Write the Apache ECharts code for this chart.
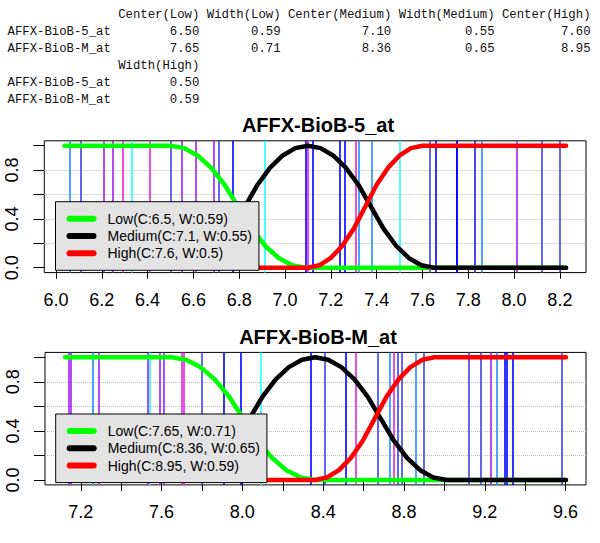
<!DOCTYPE html>
<html>
<head>
<meta charset="utf-8">
<script src="https://cdn.jsdelivr.net/npm/echarts@6/dist/echarts.min.js"></script>
<style>html,body{margin:0;padding:0;background:#fff}#c{width:600px;height:543px}</style>
</head>
<body>
<div id="c"></div>
<script>
// ---- table data ----
const probeNames = ['AFFX-BioB-5_at', 'AFFX-BioB-M_at'];
const headers1 = ['Center(Low)', 'Width(Low)', 'Center(Medium)', 'Width(Medium)', 'Center(High)'];
const headers2 = ['Width(High)'];
const centerLow = [6.50, 7.65];
const widthLow = [0.59, 0.71];
const centerMed = [7.10, 8.36];
const widthMed = [0.55, 0.65];
const centerHigh = [7.60, 8.95];
const widthHigh = [0.50, 0.59];

// ---- membership curves ----
const p1Low = [[6.037,1],[6.50,1],[6.559,0.98],[6.618,0.92],[6.677,0.82],[6.736,0.68],[6.795,0.50],[6.854,0.32],[6.913,0.18],[6.972,0.08],[7.031,0.02],[7.09,0],[8.227,0]];
const p1Med = [[6.037,0],[6.55,0],[6.605,0.02],[6.66,0.08],[6.715,0.18],[6.77,0.32],[6.825,0.5],[6.88,0.68],[6.935,0.82],[6.99,0.92],[7.045,0.98],[7.10,1],[7.155,0.98],[7.21,0.92],[7.265,0.82],[7.32,0.68],[7.375,0.5],[7.43,0.32],[7.485,0.18],[7.54,0.08],[7.595,0.02],[7.65,0],[8.227,0]];
const p1High = [[6.037,0],[7.10,0],[7.15,0.02],[7.20,0.08],[7.25,0.18],[7.30,0.32],[7.35,0.5],[7.40,0.68],[7.45,0.82],[7.50,0.92],[7.55,0.98],[7.60,1],[8.227,1]];
const p2Low = [[7.122,1],[7.65,1],[7.721,0.98],[7.792,0.92],[7.863,0.82],[7.934,0.68],[8.005,0.5],[8.076,0.32],[8.147,0.18],[8.218,0.08],[8.289,0.02],[8.36,0],[9.602,0]];
const p2Med = [[7.122,0],[7.71,0],[7.775,0.02],[7.84,0.08],[7.905,0.18],[7.97,0.32],[8.035,0.5],[8.10,0.68],[8.165,0.82],[8.23,0.92],[8.295,0.98],[8.36,1],[8.425,0.98],[8.49,0.92],[8.555,0.82],[8.62,0.68],[8.685,0.5],[8.75,0.32],[8.815,0.18],[8.88,0.08],[8.945,0.02],[9.01,0],[9.602,0]];
const p2High = [[7.122,0],[8.36,0],[8.419,0.02],[8.478,0.08],[8.537,0.18],[8.596,0.32],[8.655,0.5],[8.714,0.68],[8.773,0.82],[8.832,0.92],[8.891,0.98],[8.95,1],[9.602,1]];

// ---- sample values (vertical lines) ----
const p1Samples = [6.058,6.112,6.207,6.250,6.294,6.335,6.407,6.502,6.547,6.611,6.690,6.707,6.767,6.911,7.087,7.102,7.117,7.239,7.261,7.309,7.322,7.380,7.505,7.629,7.656,7.745,7.750,7.826,7.833,7.855,8.010,8.122,8.202];
const p1SampleCols = ['db','sb','p','p','m','c','m','sb','p','p','p','sb','b','c','b','m','b','b','b','m','db','db','c','sb','b','b','b','sb','sb','db','p','sb','sb'];
const p2Samples = [7.143,7.150,7.262,7.291,7.528,7.542,7.591,7.611,7.704,7.711,7.805,7.908,7.990,8.087,8.339,8.408,8.512,8.557,8.669,8.735,8.751,8.773,8.785,8.861,8.900,9.116,9.183,9.227,9.262,9.299,9.308,9.335,9.576];
const p2SampleCols = ['p','p','db','p','p','c','p','p','m','m','sb','b','b','c','b','sb','b','m','sb','db','m','sb','sb','db','sb','sb','sb','p','db','b','b','b','sb'];

// ---- axis ticks ----
const p1XTicks = [6.0,6.2,6.4,6.6,6.8,7.0,7.2,7.4,7.6,7.8,8.0,8.2];
const p1XLabels = [6.0,6.2,6.4,6.6,6.8,7.0,7.2,7.4,7.6,7.8,8.0,8.2];
const p2XTicks = [7.2,7.4,7.6,7.8,8.0,8.2,8.4,8.6,8.8,9.0,9.2,9.4,9.6];
const p2XLabels = [7.2,7.6,8.0,8.4,8.8,9.2,9.6];
const yTicks = [0,0.2,0.4,0.6,0.8,1.0];
const yLabels = [0,0.4,0.8];
const gridYs = [0.2,0.4,0.6,0.8];

const palette = {db:'#1E90FF', sb:'#4040E6', b:'#0000FF', p:'#A020F0', m:'#E822D8', c:'#22FFFF'};
const SANS = '"Liberation Sans", Arial, sans-serif';
const MONO = '"Liberation Mono", "DejaVu Sans Mono", monospace';

const chart = echarts.init(document.getElementById('c'), null, {renderer:'svg'});

// table graphics
const cw = 7.38, x0 = 7.5, fs = 12.3;
const rowY = [15, 32, 49, 66, 83, 100];
const g = [];
function txt(s, x, y, align){
  g.push({type:'text', x:x, y:y, silent:true, style:{text:s, fill:'#111', font: fs+'px '+MONO, align:align, verticalAlign:'middle', textAlign:align, textVerticalAlign:'middle'}});
}
const block1 = [centerLow, widthLow, centerMed, widthMed, centerHigh];
let end = 14; const ends1 = [];
headers1.forEach(h => { end += 1 + h.length; ends1.push(end); });
headers1.forEach((h,i) => txt(h, x0 + ends1[i]*cw, rowY[0], 'right'));
probeNames.forEach((n,r) => {
  txt(n, x0, rowY[1+r], 'left');
  block1.forEach((col,i) => txt(col[r].toFixed(2), x0 + ends1[i]*cw, rowY[1+r], 'right'));
});
const ends2 = [14 + 1 + headers2[0].length];
txt(headers2[0], x0 + ends2[0]*cw, rowY[3], 'right');
probeNames.forEach((n,r) => {
  txt(n, x0, rowY[4+r], 'left');
  txt(widthHigh[r].toFixed(2), x0 + ends2[0]*cw, rowY[4+r], 'right');
});

function legName(k, p){
  const cs = [centerLow, centerMed, centerHigh][k], ws = [widthLow, widthMed, widthHigh][k];
  return ['Low','Medium','High'][k] + '(C:' + String(cs[p]) + ', W:' + String(ws[p]) + ')';
}
const curveColors = ['#00FF00', '#000000', '#FF0000'];
const curves = [[p1Low, p1Med, p1High], [p2Low, p2Med, p2High]];
const samples = [p1Samples, p2Samples], sampleCols = [p1SampleCols, p2SampleCols];

const series = [];
[0,1].forEach(p => {
  series.push({type:'line', xAxisIndex:p, yAxisIndex:p, data:[], silent:true, z:1,
    markLine:{silent:true, z:1, symbol:['none','none'], label:{show:false}, animation:false,
      lineStyle:{type:'dotted', color:'#BDBDBD', width:1},
      data: gridYs.map(v => ({yAxis:v}))}});
  series.push({type:'line', xAxisIndex:p, yAxisIndex:p, data:[], silent:true, z:1,
    markLine:{silent:true, z:2, symbol:['none','none'], label:{show:false}, animation:false,
      data: samples[p].map((v,i) => ({xAxis:v, lineStyle:{color:palette[sampleCols[p][i]], width:1.6, type:'solid'}}))}});
  curves[p].forEach((d,k) => {
    series.push({type:'line', name:legName(k,p), xAxisIndex:p, yAxisIndex:p, data:d, showSymbol:false, symbol:'none', z:3,
      color: curveColors[k],
      lineStyle:{color:curveColors[k], width:4.5, cap:'round', join:'round'}});
  });
});

const capsule = 'path://M3,0 L27,0 A3,3 0 0 1 27,6 L3,6 A3,3 0 0 1 3,0 Z';
function legend(p, left, top){
  return {orient:'vertical', left:left, top:top, z:20, data:[0,1,2].map(k => legName(k,p)),
    icon: capsule, itemWidth:30, itemHeight:6, itemGap:3.3,
    padding:[10,7,10,11], backgroundColor:'#E3E3E3', borderColor:'#000', borderWidth:1, borderRadius:0,
    selectedMode:false, inactiveColor:'#000',
    textStyle:{fontSize:14, fontFamily:SANS, color:'#000', padding:[0,0,0,6]}};
}

function xAxis(p, min, max, ticks, labels){
  return {type:'value', gridIndex:p, min:min, max:max,
    axisLine:{show:false}, splitLine:{show:false},
    axisTick:{show:true, length:11, lineStyle:{color:'#000', width:1}, customValues:ticks},
    axisLabel:{customValues:labels, formatter:v => v.toFixed(1), fontSize:18, fontFamily:SANS, color:'#000', margin:18}};
}
function yAxis(p){
  return {type:'value', gridIndex:p, min:-0.04, max:1.04,
    axisLine:{show:false}, splitLine:{show:false},
    axisTick:{show:true, length:11, lineStyle:{color:'#000', width:1}, customValues:yTicks},
    axisLabel:{customValues:yLabels, formatter:v => v.toFixed(1), rotate:90, fontSize:18, fontFamily:SANS, color:'#000', margin:23}};
}

chart.setOption({
  animation:false,
  title:[
    {text:probeNames[0], left:318, top:115, textAlign:'center', padding:0, textStyle:{fontSize:20, fontWeight:'bold', fontFamily:SANS, color:'#000'}},
    {text:probeNames[1], left:318, top:327, textAlign:'center', padding:0, textStyle:{fontSize:20, fontWeight:'bold', fontFamily:SANS, color:'#000'}}
  ],
  grid:[
    {left:44.3, top:140.8, width:541.7, height:131.8, show:true, borderColor:'#000', borderWidth:1, backgroundColor:'rgba(0,0,0,0)'},
    {left:45, top:352.4, width:541, height:132.5, show:true, borderColor:'#000', borderWidth:1, backgroundColor:'rgba(0,0,0,0)'}
  ],
  legend:[legend(0, 55.5, 201.7), legend(1, 55.7, 414)],
  xAxis:[xAxis(0, 5.949, 8.314, p1XTicks, p1XLabels), xAxis(1, 7.023, 9.701, p2XTicks, p2XLabels)],
  yAxis:[yAxis(0), yAxis(1)],
  series:series,
  graphic:g
});
</script>
</body>
</html>
